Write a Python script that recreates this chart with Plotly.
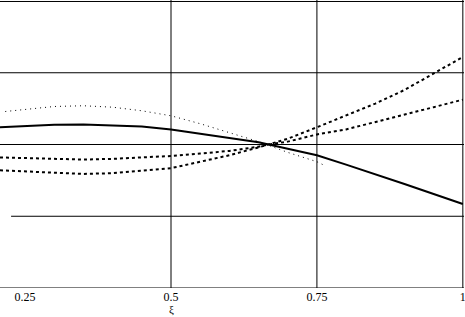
import plotly.graph_objects as go

# ---- data ----
xi_solid = [0.207, 0.25, 0.30, 0.35, 0.40, 0.45, 0.50, 0.55, 0.60, 0.65, 0.70, 0.75, 0.80, 0.85, 0.90, 0.95, 1.00]
y_solid = [2.24, 2.26, 2.275, 2.28, 2.27, 2.25, 2.21, 2.15, 2.10, 2.03, 1.94, 1.85, 1.72, 1.59, 1.45, 1.31, 1.17]

xi_dot = [0.216, 0.25, 0.30, 0.35, 0.40, 0.45, 0.50, 0.55, 0.60, 0.65, 0.70, 0.75, 0.76]
y_dot = [2.46, 2.49, 2.53, 2.54, 2.52, 2.47, 2.40, 2.29, 2.17, 2.04, 1.89, 1.76, 1.72]

xi_dash = [0.207, 0.25, 0.30, 0.35, 0.40, 0.45, 0.50, 0.55, 0.60, 0.65, 0.667, 0.70, 0.75, 0.80, 0.85, 0.90, 0.95, 1.00]
y_dash_steep = [1.64, 1.625, 1.60, 1.59, 1.60, 1.64, 1.67, 1.76, 1.85, 1.96, 2.0, 2.08, 2.24, 2.40, 2.57, 2.76, 2.99, 3.22]
y_dash_flat = [1.82, 1.81, 1.80, 1.79, 1.80, 1.82, 1.84, 1.875, 1.91, 1.97, 2.0, 2.04, 2.14, 2.21, 2.31, 2.42, 2.52, 2.625]

x_tick_vals = [0.25, 0.5, 0.75, 1.0]
x_tick_text = ["0.25", "0.5", "0.75", "1"]
x_grid = [0.5, 0.75, 1.0]
y_grid = [0, 1, 2, 3]
y_grid_start = [0.207, 0.226, 0.207, 0.207]

fig = go.Figure()
fig.add_trace(go.Scatter(x=xi_dot, y=y_dot, mode="lines",
                         line=dict(color="black", width=1, dash="1px,4px"), showlegend=False))
fig.add_trace(go.Scatter(x=xi_dash, y=y_dash_steep, mode="lines",
                         line=dict(color="black", width=2, dash="3px,3px"), showlegend=False))
fig.add_trace(go.Scatter(x=xi_dash, y=y_dash_flat, mode="lines",
                         line=dict(color="black", width=2, dash="3px,3px"), showlegend=False))
fig.add_trace(go.Scatter(x=xi_solid, y=y_solid, mode="lines",
                         line=dict(color="black", width=2), showlegend=False))

for gx in x_grid:
    fig.add_shape(type="line", xref="x", yref="paper", x0=gx, x1=gx, y0=0, y1=1,
                  line=dict(color="black", width=1), layer="below")
for gy, gs in zip(y_grid, y_grid_start):
    fig.add_shape(type="line", xref="x", yref="y", x0=gs, x1=1.002, y0=gy, y1=gy,
                  line=dict(color="black", width=1), layer="below")
# top border of the frame
fig.add_shape(type="line", xref="paper", yref="paper", x0=0, x1=1, y0=0.9948, y1=0.9948,
              line=dict(color="black", width=1), layer="above")

fig.add_annotation(x=0.5, xref="x", y=-0.045, yref="paper", yanchor="top",
                   text="ξ", showarrow=False,
                   font=dict(family="Liberation Serif", size=11, color="black"))

fig.update_layout(
    width=465, height=317,
    margin=dict(l=0, r=1, t=0, b=29),
    paper_bgcolor="white", plot_bgcolor="white",
    xaxis=dict(range=[0.207, 1.002], showgrid=False, zeroline=False, showline=False,
               automargin=False, ticklabeloverflow="allow",
               tickvals=x_tick_vals, ticktext=x_tick_text, ticks="",
               tickfont=dict(family="Liberation Serif", size=12, color="black")),
    yaxis=dict(range=[0, 4.014], showgrid=False, zeroline=False, showline=False,
               automargin=False, showticklabels=False, ticks=""),
)

fig.write_html("out.html", config={"displayModeBar": False},
               post_script="document.body.style.margin='0';")
